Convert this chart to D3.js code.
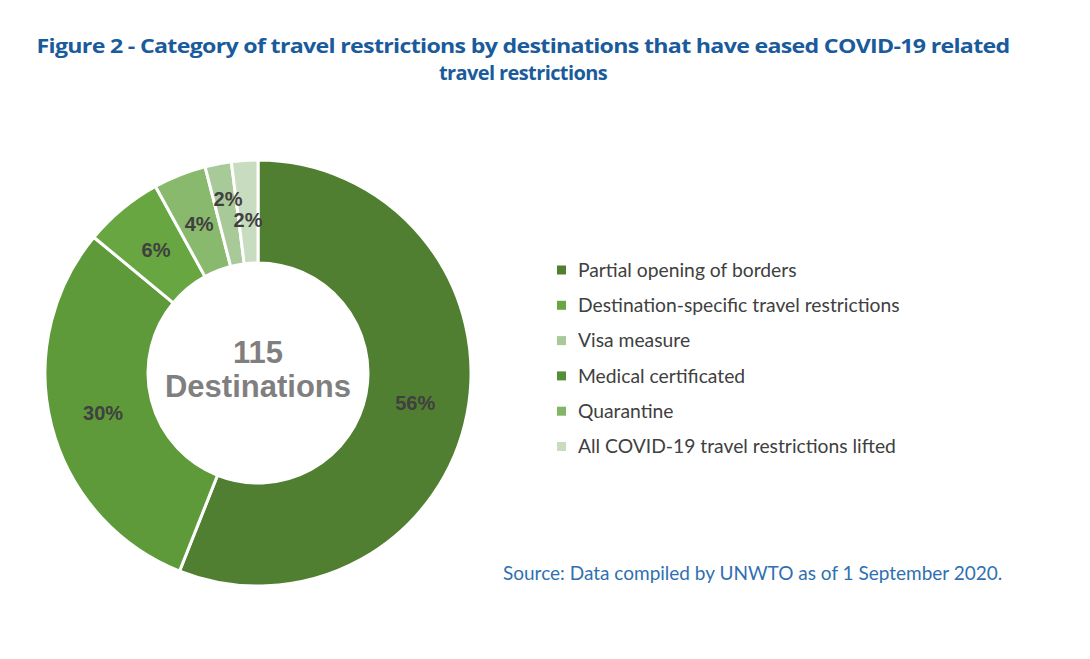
<!DOCTYPE html>
<html>
<head>
<meta charset="utf-8">
<script src="https://cdn.jsdelivr.net/npm/d3@7"></script>
<style>
    body { margin: 0; background: #fff; }
</style>
</head>
<body>
<div id="chart"></div>
<script>
// slice values (share of destinations, %), clockwise from 12 o'clock
const sliceValues = [56, 30, 6, 4, 2, 2];
const sliceColors = ["#507f31", "#5e9a3a", "#68a641", "#89b96d", "#a8c998", "#c8dcbf"];

const legendLabels = [
    "Partial opening of borders",
    "Destination-specific travel restrictions",
    "Visa measure",
    "Medical certificated",
    "Quarantine",
    "All COVID-19 travel restrictions lifted",
];
const legendColors = ["#507f31", "#68a641", "#a8c998", "#558e36", "#82b565", "#c8dcbf"];

const centerLines = ["115", "Destinations"];
const titleLines = [
    "Figure 2 - Category of travel restrictions by destinations that have eased COVID-19 related",
    "travel restrictions",
];
const sourceText = "Source: Data compiled by UNWTO as of 1 September 2020.";

const width = 1090;
const height = 659;
const cx = 258, cy = 373;
const outerR = 213, innerR = 110, labelR = 160;
// small nudges for the two crowded 2% labels
const labelNudge = [0, 0, 0, 0, -17, 6];

const svg = d3.select("#chart")
    .append("svg")
    .attr("width", width)
    .attr("height", height);

// title
svg.append("g")
    .selectAll("text")
    .data(titleLines)
    .join("text")
    .attr("x", 523)
    .attr("y", (_, i) => 53 + i * 27)
    .attr("text-anchor", "middle")
    .attr("fill", "#1a5b9c")
    .attr("font-family", "'Open Sans', sans-serif")
    .attr("font-weight", 700)
    .attr("font-size", 20)
    .attr("letter-spacing", -0.6)
    .attr("textLength", (_, i) => i == 0 ? 973 : null)
    .attr("lengthAdjust", "spacingAndGlyphs")
    .text(d => d);

const pie = d3.pie().sort(null).value(d => d);
const arcs = pie(sliceValues);
const arc = d3.arc().innerRadius(innerR).outerRadius(outerR);
const labelArc = d3.arc().innerRadius(labelR).outerRadius(labelR);

const g = svg.append("g").attr("transform", `translate(${cx},${cy})`);

g.selectAll("path")
    .data(arcs)
    .join("path")
    .attr("d", arc)
    .attr("fill", (_, i) => sliceColors[i])
    .attr("stroke", "#fff")
    .attr("stroke-width", 3)
    .attr("stroke-linejoin", "miter");

g.selectAll("text.pct")
    .data(arcs)
    .join("text")
    .attr("class", "pct")
    .attr("x", d => labelArc.centroid(d)[0])
    .attr("y", (d, i) => labelArc.centroid(d)[1] + labelNudge[i])
    .attr("dy", "0.36em")
    .attr("text-anchor", "middle")
    .attr("fill", "#404040")
    .attr("font-family", "Arial, 'Liberation Sans', sans-serif")
    .attr("font-weight", 700)
    .attr("font-size", 20)
    .text(d => d.data + "%");

g.selectAll("text.center")
    .data(centerLines)
    .join("text")
    .attr("class", "center")
    .attr("x", 0)
    .attr("y", (_, i) => -21 + i * 34)
    .attr("dy", "0.36em")
    .attr("text-anchor", "middle")
    .attr("fill", "#7f7f7f")
    .attr("font-family", "Arial, 'Liberation Sans', sans-serif")
    .attr("font-weight", 700)
    .attr("font-size", 31)
    .text(d => d);

// legend
const legend = svg.append("g")
    .selectAll("g")
    .data(legendLabels)
    .join("g")
    .attr("transform", (_, i) => `translate(557,${270 + i * 35.3})`);

legend.append("rect")
    .attr("x", 0)
    .attr("y", -4.5)
    .attr("width", 9)
    .attr("height", 9)
    .attr("fill", (_, i) => legendColors[i]);

legend.append("text")
    .attr("x", 21)
    .attr("y", 0)
    .attr("dy", "0.35em")
    .attr("fill", "#404040")
    .attr("font-family", "Lato, 'Open Sans', sans-serif")
    .attr("font-size", 19.3)
    .text(d => d);

svg.append("text")
    .attr("x", 503)
    .attr("y", 580)
    .attr("fill", "#2f70b2")
    .attr("font-family", "Lato, 'Open Sans', sans-serif")
    .attr("font-size", 19)
    .text(sourceText);
</script>
</body>
</html>
